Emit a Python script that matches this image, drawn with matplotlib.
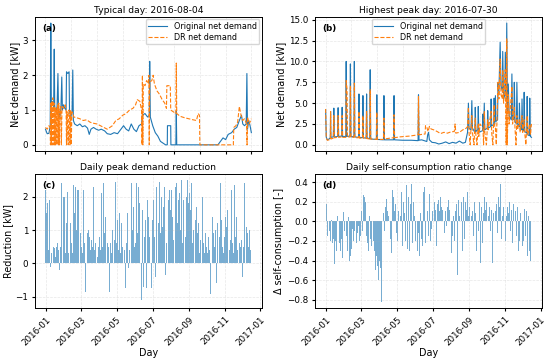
import numpy as np
import pandas as pd
import matplotlib
matplotlib.use("Agg")
import matplotlib.pyplot as plt
import matplotlib.dates as mdates
from matplotlib.ticker import MultipleLocator

# (a) typical day, (hour, kW)
typ_orig = [(0.00,0.45),(0.10,0.38),(0.20,0.32),(0.40,0.33),(0.55,0.55),(0.62,3.50),(0.68,1.10),(0.80,1.25),(0.95,1.10),(1.02,2.75),(1.08,1.00),(1.20,0.95),(1.35,1.10),(1.45,2.05),(1.52,1.00),(1.65,0.75),(1.80,1.05),(1.90,1.95),(1.97,1.00),(2.10,1.15),(2.25,1.05),(2.40,1.00),(2.45,2.10),(2.60,2.05),(2.75,2.10),(2.80,0.95),(2.95,0.80),(3.10,0.95),(3.18,2.15),(3.25,0.70),(3.40,0.60),(3.70,0.55),(4.00,0.60),(4.30,0.52),(4.60,0.55),(4.90,0.48),(5.10,0.30),(5.30,0.45),(5.60,0.50),(5.90,0.45),(6.20,0.42),(6.50,0.45),(6.90,0.40),(7.20,0.32),(7.60,0.30),(8.00,0.35),(8.40,0.32),(8.80,0.45),(9.10,0.55),(9.40,0.45),(9.70,0.40),(10.00,0.60),(10.30,0.45),(10.60,0.38),(10.90,0.55),(11.20,0.60),(11.30,0.85),(11.60,0.90),(11.90,0.80),(12.10,0.85),(12.15,2.40),(12.22,0.80),(12.50,0.55),(12.80,0.35),(13.10,0.25),(13.40,0.10),(13.70,0.05),(14.00,0.00),(14.20,0.00),(14.22,0.55),(14.60,0.55),(14.62,0.00),(15.20,0.00),(15.25,0.98),(15.30,0.00),(20.10,0.00),(20.40,0.10),(20.70,0.20),(21.00,0.15),(21.30,0.30),(21.70,0.35),(22.00,0.45),(22.30,0.50),(22.60,0.70),(22.85,0.85),(23.00,0.60),(23.20,0.55),(23.40,0.60),(23.48,2.05),(23.55,0.45),(23.70,0.70),(23.85,0.55),(24.00,0.35)]
typ_dr = [(0.00,0.50),(0.20,0.45),(0.40,0.55),(0.55,0.50),(0.58,0.00),(0.62,1.20),(0.68,0.00),(0.72,1.25),(0.80,0.00),(0.85,1.35),(0.92,0.00),(0.98,1.20),(1.05,0.00),(1.10,1.10),(1.18,0.00),(1.25,1.05),(1.32,0.00),(1.40,1.15),(1.50,0.00),(1.55,1.20),(1.62,0.00),(1.70,1.05),(1.78,1.10),(1.85,0.00),(1.92,1.00),(2.00,1.10),(2.10,1.05),(2.30,1.15),(2.40,1.00),(2.45,0.00),(2.52,0.95),(2.65,0.00),(2.72,1.00),(2.80,0.85),(2.85,0.00),(2.92,1.00),(3.00,0.00),(3.08,0.95),(3.18,0.90),(3.30,0.80),(3.60,0.78),(4.00,0.75),(4.40,0.70),(4.80,0.72),(5.20,0.65),(5.60,0.62),(6.00,0.60),(6.40,0.55),(6.80,0.50),(7.20,0.45),(7.50,0.50),(7.80,0.55),(8.20,0.70),(8.60,0.75),(9.00,0.85),(9.40,0.90),(9.80,1.00),(10.20,1.05),(10.50,1.15),(10.70,1.30),(11.00,1.25),(11.20,1.00),(11.25,0.00),(11.30,2.00),(11.35,0.00),(11.40,1.75),(11.60,1.70),(11.80,1.85),(12.00,1.75),(12.05,2.00),(12.10,0.00),(12.15,1.80),(12.40,1.85),(12.55,2.00),(12.70,1.75),(13.00,1.55),(13.30,1.45),(13.60,1.30),(13.90,1.20),(14.10,1.05),(14.15,1.70),(14.55,1.70),(14.60,1.00),(14.90,0.95),(15.20,0.90),(15.25,2.35),(15.30,0.90),(15.70,0.82),(16.20,0.78),(16.70,0.75),(17.20,0.72),(17.60,0.70),(17.80,0.90),(17.95,0.85),(18.00,0.00),(21.90,0.00),(21.95,0.50),(22.20,0.55),(22.40,0.65),(22.60,1.10),(22.80,0.85),(23.00,0.70),(23.20,0.75),(23.45,0.60),(23.50,0.00),(23.55,0.80),(23.75,0.60),(24.00,0.75)]

# (b) highest peak day
peak_orig = [(0.00,4.20),(0.08,0.90),(0.20,0.60),(0.40,0.70),(0.55,0.85),(0.58,4.00),(0.62,0.90),(0.90,0.95),(0.96,4.40),(1.02,0.95),(1.40,1.00),(1.46,4.45),(1.52,1.00),(1.88,1.05),(1.93,4.50),(1.98,1.00),(2.35,1.00),(2.40,10.00),(2.46,1.00),(2.84,1.05),(2.89,9.70),(2.95,0.95),(3.30,1.00),(3.35,10.00),(3.41,0.95),(3.84,0.90),(3.89,6.10),(3.95,0.90),(4.30,0.85),(4.35,5.90),(4.41,0.85),(4.73,0.80),(4.78,6.10),(4.84,0.80),(5.15,0.75),(5.20,9.00),(5.26,0.70),(5.92,0.65),(5.97,6.00),(6.03,0.65),(6.75,0.60),(6.80,5.90),(6.86,0.60),(7.93,0.60),(7.98,5.90),(8.04,0.60),(9.00,0.55),(10.00,0.55),(10.78,0.50),(10.83,6.00),(10.89,0.55),(11.20,0.60),(11.50,0.50),(11.80,0.40),(11.90,1.20),(12.00,1.50),(12.10,0.60),(12.40,0.30),(12.80,0.25),(13.20,0.10),(13.60,0.20),(14.00,0.35),(14.40,0.15),(14.80,0.30),(15.20,0.20),(15.60,0.45),(16.00,0.20),(16.30,0.30),(16.55,1.50),(16.65,5.00),(16.72,2.00),(16.95,1.80),(17.05,5.30),(17.12,2.00),(17.40,1.50),(17.45,4.50),(17.52,1.60),(17.75,1.80),(17.80,4.60),(17.86,1.50),(18.30,1.70),(18.35,3.70),(18.42,1.60),(18.50,5.00),(18.56,1.80),(18.85,2.00),(18.90,4.10),(18.96,2.00),(19.25,2.20),(19.30,5.50),(19.36,2.30),(19.60,2.40),(19.65,5.60),(19.72,2.50),(19.80,5.90),(19.86,2.80),(20.05,3.00),(20.10,7.40),(20.20,6.00),(20.35,12.30),(20.45,7.00),(20.60,6.50),(20.65,11.20),(20.75,5.50),(20.90,6.00),(20.95,11.10),(21.05,5.50),(21.12,14.60),(21.20,4.00),(21.30,7.30),(21.40,3.50),(21.65,3.00),(21.72,8.50),(21.80,3.20),(21.95,3.00),(22.00,7.50),(22.08,2.80),(22.25,2.50),(22.30,7.50),(22.38,2.50),(22.55,2.20),(22.60,5.00),(22.68,2.00),(22.85,1.80),(22.90,5.50),(22.98,1.80),(23.10,1.70),(23.15,6.30),(23.22,1.60),(23.45,1.40),(23.50,5.80),(23.57,1.20),(23.75,1.10),(23.80,5.60),(23.88,1.00),(24.00,0.90)]
peak_dr = [(0.00,4.30),(0.08,0.80),(0.20,0.55),(0.40,0.60),(0.55,0.70),(0.58,4.00),(0.62,0.70),(0.90,0.80),(0.96,3.50),(1.02,0.85),(1.40,0.90),(1.46,3.50),(1.52,0.90),(1.88,0.95),(1.93,3.50),(1.98,0.90),(2.35,0.90),(2.40,7.70),(2.50,6.70),(2.55,0.90),(2.84,0.95),(2.89,7.10),(2.95,0.90),(3.30,0.90),(3.35,7.40),(3.41,0.85),(3.84,0.85),(3.89,4.00),(3.95,0.80),(4.30,0.80),(4.35,3.50),(4.41,0.80),(4.73,0.75),(4.78,4.00),(4.84,0.75),(5.15,0.70),(5.20,6.60),(5.26,0.70),(5.92,0.65),(5.97,3.90),(6.03,0.65),(6.75,0.65),(6.80,3.20),(6.86,0.70),(7.50,0.80),(7.93,0.85),(7.98,3.60),(8.04,0.85),(8.60,0.95),(9.20,1.00),(9.80,1.05),(10.40,1.15),(10.78,1.20),(10.83,5.80),(10.89,1.20),(11.20,1.25),(11.60,1.30),(11.65,2.30),(11.80,2.10),(11.95,1.60),(12.10,2.20),(12.30,1.90),(12.60,1.80),(13.00,1.60),(13.40,1.35),(13.80,1.50),(14.20,1.40),(14.60,1.55),(15.00,1.60),(15.10,2.50),(15.18,1.40),(15.60,1.50),(16.00,1.80),(16.40,2.00),(16.55,2.20),(16.65,4.50),(16.72,1.50),(16.85,0.00),(16.95,2.00),(17.05,3.50),(17.12,1.50),(17.30,0.00),(17.45,3.20),(17.52,1.20),(17.65,0.00),(17.80,2.60),(17.86,1.00),(18.00,2.50),(18.35,2.00),(18.42,0.00),(18.50,4.00),(18.56,1.50),(18.75,0.00),(18.90,3.00),(18.96,1.80),(19.30,4.00),(19.36,1.50),(19.50,0.00),(19.65,4.80),(19.72,2.00),(19.80,2.00),(19.90,0.00),(20.10,7.50),(20.20,5.50),(20.35,10.30),(20.45,6.00),(20.60,5.50),(20.65,9.00),(20.75,5.00),(20.95,9.00),(21.05,0.00),(21.12,12.70),(21.18,0.00),(21.30,6.00),(21.40,2.50),(21.72,7.00),(21.80,2.50),(22.00,4.50),(22.08,2.00),(22.20,0.00),(22.30,3.50),(22.38,1.80),(22.60,3.00),(22.68,1.50),(22.90,3.50),(22.98,1.50),(23.15,3.00),(23.22,1.40),(23.35,0.00),(23.50,3.50),(23.57,1.20),(23.80,2.50),(23.88,1.20),(24.00,2.50)]

# (c) daily peak reduction [kW], by month
red_jan = [2.2, 1.5, -0.87, 1.8, 0.7, 0.4, 1.9, 0.2, -0.1, 0.5, 0.3, -0.45, 1.4, 0.5, 0.3, 0.45, 0.6, 0.2, 0.5, 1.1, 0.6, 0.2, 0.4, -0.2, 0.7, 0.5, 2.2, 2.4, 0.7, 1.1, 2.0]
red_feb = [0.5, 2.0, 0.6, 0.3, 1.2, 0.4, 2.15, 0.8, 0.3, 0.5, -0.15, 1.2, 0.4, 0.6, 1.0, 0.3, 2.35, 0.8, 1.5, 0.6, 2.3, 1.0, 0.5, 2.2, 0.4, 2.2, 1.6, -0.3, 0.9]
red_mar = [2.3, 0.5, 1.9, 0.3, 2.2, 1.7, 0.6, 0.3, -0.85, 0.4, 1.3, 0.9, 0.5, 1.0, 0.3, 0.8, 0.4, 2.1, 0.7, 1.2, 0.5, 2.3, 1.2, 0.4, 1.6, 0.6, 0.4, 1.3, 0.2, 0.9, 0.5]
red_apr = [1.5, 0.8, 0.4, 1.2, 2.1, 0.7, 0.5, 2.4, 1.6, 0.9, 0.3, 1.4, 2.3, 1.8, 0.6, 1.1, 0.5, 1.5, -0.85, 0.6, 1.2, 0.3, -0.5, 1.0, -0.6, 1.9, 0.7, 2.1, 2.45, 0.8]
red_may = [0.6, 1.3, 2.1, 0.4, 0.9, 1.5, 0.3, 0.8, 1.2, 2.3, 0.5, 1.8, 0.7, 0.4, 2.0, -0.75, 1.1, 0.6, 1.5, 2.2, -0.15, 0.9, 0.4, 1.3, 0.8, 2.4, 0.6, 1.0, 0.3, 1.7, 0.5]
red_jun = [1.2, 0.6, -0.4, 2.4, 0.9, 1.5, 2.3, 0.5, 1.8, 0.7, 1.1, -1.1, 0.4, 1.6, 2.0, -0.7, 0.8, 2.4, 1.3, 0.6, -0.75, 1.9, 0.5, 1.4, 2.3, 0.8, 1.2, 0.4, -0.75, 1.7]
red_jul = [1.3, 0.6, 1.9, 0.8, 2.4, -0.4, 1.5, 2.3, 0.7, 1.8, 1.2, 0.5, 2.45, 1.6, 0.9, 2.0, 2.4, 1.1, 0.4, 1.7, 2.3, 0.8, -0.35, 1.4, 0.6, 2.4, -0.7, 1.9, 1.0, 2.2, 0.7]
red_aug = [1.6, 2.2, 0.9, 1.4, 2.0, 0.7, 1.8, 1.1, 2.3, 1.5, 2.4, -0.7, 1.2, 1.9, 0.8, 2.1, 1.6, 1.0, 2.5, 1.7, 0.6, 2.4, 1.9, 1.3, 2.2, 0.8, 1.5, 2.0, 1.2, 2.5, 1.8]
red_sep = [1.4, 2.1, 0.8, 1.6, 2.4, 1.2, 0.6, 1.9, 1.0, 0.5, 2.2, 1.3, 0.4, 1.7, 2.3, 0.9, 1.2, -0.5, 0.3, 1.5, 0.7, 1.1, 0.4, 2.0, 2.4, 0.6, 1.3, 0.3, 0.9, 1.5]
red_oct = [0.5, 1.2, 0.3, 0.8, 1.5, 0.4, 1.1, -0.9, 1.6, 0.6, 1.4, 0.3, 0.9, 1.5, 0.5, 1.0, 2.3, -0.6, 0.7, 1.2, 0.4, -0.1, 0.8, 1.9, 2.4, 0.6, 1.3, 0.5, 0.9, 0.3, 1.6]
red_nov = [0.8, 1.4, 0.5, 1.1, 0.3, 1.6, 0.9, 2.3, 0.4, 1.2, 0.7, 1.5, 2.2, 0.6, 1.0, 0.3, 1.3, 2.35, 0.8, 0.5, 1.4, 0.9, 0.4, 2.1, 1.1, 0.6, 1.8, 0.5, 1.2, 0.7]
red_dec = [-0.4, -1.15, 0.5, 1.2, 2.4, 2.35, 0.5, 1.1, 0.3, 0.9, 0.6, 0.5, 1.0, 0.7, 0.4, 0.9]

# (d) daily self-consumption ratio change [-]
sc_jan = [-0.12, 0.18, -0.38, -0.15, -0.25, -0.3, -0.1, -0.33, -0.2, -0.28, 0.01, -0.22, -0.31, -0.18, -0.26, -0.43, -0.2, -0.12, -0.3, -0.15, 0.05, 0.12, -0.08, -0.22, -0.14, -0.3, -0.05, -0.18, -0.37, -0.1, 0.09]
sc_feb = [-0.2, -0.1, -0.27, 0.03, -0.15, -0.75, -0.3, -0.12, 0.04, -0.4, -0.22, -0.35, -0.18, -0.28, -0.08, -0.33, -0.2, -0.25, -0.1, -0.38, -0.15, -0.22, -0.3, -0.12, -0.27, -0.05, -0.2, -0.3, -0.15]
sc_mar = [0.05, 0.1, -0.1, 0.22, 0.27, 0.15, 0.25, 0.08, 0.2, -0.15, 0.18, -0.22, 0.12, -0.3, 0.05, 0.2, -0.18, 0.1, -0.25, 0.15, -0.12, -0.2, 0.08, -0.3, -0.15, -0.5, -0.35, -0.52, -0.45, -0.2, -0.6]
sc_apr = [-0.4, -0.3, -0.48, -0.25, -0.82, -0.38, -0.2, 0.08, -0.3, -0.1, -0.35, 0.15, 0.23, -0.15, 0.1, -0.28, 0.05, 0.2, 0.3, -0.18, 0.12, -0.32, 0.08, 0.32, 0.25, -0.22, 0.1, -0.38, 0.18, -0.12]
sc_may = [0.15, -0.2, 0.35, 0.1, -0.33, 0.22, 0.05, -0.15, 0.3, 0.12, -0.25, 0.2, -0.1, 0.08, 0.42, -0.2, 0.37, 0.15, -0.28, 0.1, 0.25, 0.05, -0.3, 0.18, -0.12, 0.38, 0.1, -0.22, 0.2, -0.25, 0.05]
sc_jun = [0.1, -0.2, 0.05, 0.33, -0.3, 0.15, -0.12, 0.25, -0.35, 0.08, 0.2, -0.18, 0.1, -0.25, 0.3, -0.1, 0.35, 0.05, -0.22, 0.15, -0.3, 0.1, 0.2, -0.15, 0.05, 0.28, -0.2, 0.12, -0.08, 0.22]
sc_jul = [0.1, 0.15, -0.05, 0.2, 0.08, 0.12, -0.1, -0.25, 0.18, 0.05, 0.22, -0.15, 0.1, 0.25, 0.02, 0.15, -0.08, 0.12, 0.2, 0.05, -0.12, 0.18, 0.1, 0.25, -0.05, 0.15, 0.08, 0.22, 0.3, 0.12, 0.38]
sc_aug = [0.1, -0.32, 0.2, -0.15, 0.25, 0.05, -0.2, 0.32, 0.1, -0.1, 0.18, -0.55, 0.15, 0.22, -0.25, 0.05, 0.3, -0.12, 0.2, 0.08, -0.3, 0.15, 0.25, -0.18, 0.1, 0.2, -0.28, 0.12, 0.3, -0.1, 0.05]
sc_sep = [-0.3, 0.15, -0.2, 0.22, 0.05, -0.33, 0.1, 0.33, -0.15, 0.2, -0.25, 0.08, 0.18, -0.3, 0.12, 0.25, -0.1, 0.05, 0.2, -0.18, -0.42, 0.15, 0.1, -0.22, -0.4, 0.08, 0.25, -0.15, 0.12, -0.28]
sc_oct = [0.2, -0.15, 0.3, 0.05, -0.25, 0.15, 0.28, -0.1, 0.12, -0.3, -0.42, 0.22, 0.08, -0.2, 0.35, 0.1, -0.28, 0.18, 0.05, -0.12, 0.25, -0.22, 0.15, 0.1, 0.38, -0.18, 0.2, 0.05, -0.3, 0.15, 0.25]
sc_nov = [0.1, -0.2, 0.22, 0.05, -0.3, 0.15, 0.08, -0.15, 0.2, 0.33, -0.1, 0.12, 0.25, -0.22, 0.05, 0.18, -0.28, -0.4, 0.1, 0.2, -0.15, 0.05, 0.15, -0.3, 0.12, -0.2, -0.49, 0.08, 0.15, -0.25]
sc_dec = [-0.25, 0.15, -0.2, -0.3, 0.13, -0.15, -0.28, 0.1, -0.22, -0.35, 0.05, -0.18, -0.3, 0.12, -0.4, -0.15]

reduction = sum([red_jan, red_feb, red_mar, red_apr, red_may, red_jun,
                 red_jul, red_aug, red_sep, red_oct, red_nov, red_dec], [])
sc_change = sum([sc_jan, sc_feb, sc_mar, sc_apr, sc_may, sc_jun,
                 sc_jul, sc_aug, sc_sep, sc_oct, sc_nov, sc_dec], [])
days = pd.date_range("2016-01-01", periods=len(reduction), freq="D")

fs = 6.3
plt.rcParams.update({"font.size": fs, "axes.titlesize": 6.6, "axes.labelsize": 6.9,
                     "xtick.labelsize": fs, "ytick.labelsize": fs, "legend.fontsize": 5.8,
                     "xtick.major.size": 2.5, "ytick.major.size": 2.5,
                     "xtick.major.pad": 2.5, "ytick.major.pad": 2.5,
                     "axes.linewidth": 0.7})

fig, axs = plt.subplots(2, 2, figsize=(5.5, 3.61), dpi=100)
fig.subplots_adjust(left=0.064, right=0.985, top=0.953, bottom=0.147, wspace=0.237, hspace=0.172)

def day_panel(ax, orig, dr, title, tag, loc):
    h, v = zip(*orig)
    ax.plot(h, v, color="tab:blue", lw=0.8, label="Original net demand")
    h, v = zip(*dr)
    ax.plot(h, v, color="tab:orange", lw=0.8, ls="--", label="DR net demand")
    ax.set_title(title, pad=2.5)
    ax.set_ylabel("Net demand [kW]", labelpad=2)
    ax.set_xticks(range(0, 25, 3))
    ax.tick_params(labelbottom=False)
    ax.legend(loc=loc, borderpad=0.3, labelspacing=0.25, handlelength=2.4, borderaxespad=0.3)
    ax.text(0.03, 0.95, tag, transform=ax.transAxes, fontweight="bold", va="top")
    ax.grid(True, ls="--", lw=0.5, alpha=0.3)

day_panel(axs[0, 0], typ_orig, typ_dr, "Typical day: 2016-08-04", "(a)", "upper right")
day_panel(axs[0, 1], peak_orig, peak_dr, "Highest peak day: 2016-07-30", "(b)", "upper center")
axs[0, 1].set_yticks([0, 2.5, 5, 7.5, 10, 12.5, 15])

def bar_panel(ax, vals, title, ylab, tag):
    ax.bar(days, vals, width=0.9, color="tab:blue", alpha=0.6)
    ax.set_title(title, pad=2.5)
    ax.set_ylabel(ylab, labelpad=2)
    ax.set_xlabel("Day", labelpad=1)
    ax.xaxis.set_major_locator(mdates.MonthLocator(bymonth=[1, 3, 5, 7, 9, 11]))
    ax.xaxis.set_major_formatter(mdates.DateFormatter("%Y-%m"))
    plt.setp(ax.get_xticklabels(), rotation=45, ha="right", rotation_mode="anchor")
    ax.text(0.03, 0.95, tag, transform=ax.transAxes, fontweight="bold", va="top")
    ax.grid(True, ls="--", lw=0.5, alpha=0.3)

bar_panel(axs[1, 0], reduction, "Daily peak demand reduction", "Reduction [kW]", "(c)")
bar_panel(axs[1, 1], sc_change, "Daily self-consumption ratio change", "Δ self-consumption [-]", "(d)")
axs[1, 1].yaxis.set_major_locator(MultipleLocator(0.2))

fig.savefig("out.png", dpi=100)
